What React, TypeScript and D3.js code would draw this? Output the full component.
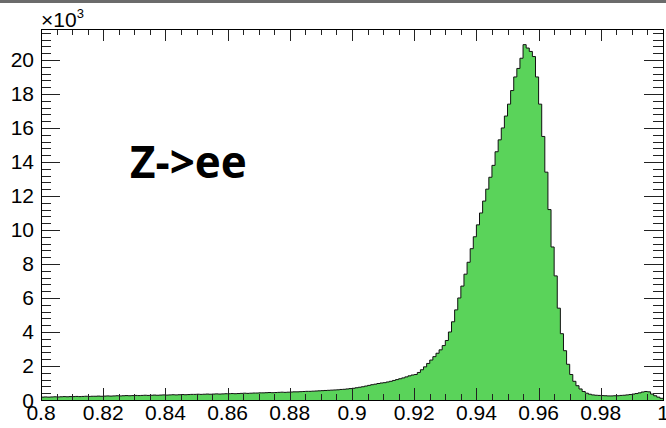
import React from "react";
import * as d3 from "d3";

// Histogram: 200 bins of width 0.001 from 0.8 to 1.0, counts in units of 10^3
const binStart = 0.8;
const binWidth = 0.001;
const counts: number[] = [
  // 0.800 - 0.899
  0.17, 0.18, 0.17, 0.18, 0.19, 0.18, 0.19, 0.20, 0.19, 0.20,
  0.20, 0.21, 0.20, 0.21, 0.22, 0.21, 0.22, 0.22, 0.23, 0.22,
  0.23, 0.24, 0.23, 0.24, 0.25, 0.24, 0.25, 0.26, 0.25, 0.26,
  0.27, 0.26, 0.27, 0.28, 0.27, 0.28, 0.29, 0.28, 0.29, 0.30,
  0.29, 0.30, 0.31, 0.30, 0.31, 0.32, 0.31, 0.32, 0.33, 0.33,
  0.34, 0.33, 0.34, 0.35, 0.34, 0.35, 0.36, 0.35, 0.36, 0.37,
  0.37, 0.38, 0.37, 0.38, 0.39, 0.40, 0.39, 0.40, 0.41, 0.41,
  0.42, 0.42, 0.43, 0.44, 0.43, 0.44, 0.45, 0.46, 0.45, 0.46,
  0.47, 0.48, 0.48, 0.49, 0.50, 0.51, 0.51, 0.52, 0.53, 0.54,
  0.55, 0.56, 0.57, 0.58, 0.59, 0.60, 0.62, 0.63, 0.65, 0.67,
  // 0.900 - 0.929
  0.69, 0.72, 0.75, 0.78, 0.82, 0.86, 0.90, 0.93, 0.97, 1.00,
  1.02, 1.06, 1.10, 1.15, 1.20, 1.25, 1.30, 1.36, 1.42, 1.47,
  1.50, 1.62, 1.78, 1.95, 2.15, 2.35, 2.55, 2.75, 2.95, 3.20,
  // 0.930 - 0.959
  3.50, 4.00, 4.60, 5.30, 6.00, 6.70, 7.40, 8.10, 8.90, 9.60,
  10.3, 11.0, 11.7, 12.4, 13.1, 13.8, 14.6, 15.3, 16.0, 16.7,
  17.4, 18.2, 19.0, 19.5, 20.1, 20.9, 20.7, 20.5, 20.2, 19.0,
  // 0.960 - 0.999
  17.4, 15.5, 13.4, 11.2, 9.00, 7.30, 5.40, 3.90, 2.90, 2.10,
  1.50, 1.10, 0.84, 0.65, 0.50, 0.40, 0.34, 0.30, 0.28, 0.27,
  0.26, 0.25, 0.24, 0.24, 0.25, 0.25, 0.27, 0.28, 0.30, 0.32,
  0.35, 0.38, 0.42, 0.47, 0.50, 0.48, 0.35, 0.25, 0.17, 0.10,
];

const xMajorTicks = [0.8, 0.82, 0.84, 0.86, 0.88, 0.9, 0.92, 0.94, 0.96, 0.98, 1.0];
const xTickLabels = ["0.8", "0.82", "0.84", "0.86", "0.88", "0.9", "0.92", "0.94", "0.96", "0.98", "1"];
const yMajorTicks = [0, 2, 4, 6, 8, 10, 12, 14, 16, 18, 20];
const yTickLabels = ["0", "2", "4", "6", "8", "10", "12", "14", "16", "18", "20"];
const xDomain = [0.8, 1.0];
const yDomain = [0, 21.82];
const annotation = "Z->ee";

const W = 666;
const H = 428;
const L = 41, R = 663, T = 29, B = 400;

export default function App() {
  const x = d3.scaleLinear().domain(xDomain).range([L, R]);
  const y = d3.scaleLinear().domain(yDomain).range([B, T]);

  const pts: [number, number][] = counts.map((c, i) => [binStart + i * binWidth, c]);
  pts.push([binStart + counts.length * binWidth, counts[counts.length - 1]]);

  const area = d3
    .area<[number, number]>()
    .x((d) => x(d[0]))
    .y0(y(0))
    .y1((d) => y(d[1]))
    .curve(d3.curveStepAfter);
  const line = d3
    .line<[number, number]>()
    .x((d) => x(d[0]))
    .y((d) => y(d[1]))
    .curve(d3.curveStepAfter);

  const xMinor: number[] = [];
  for (let i = 0; i <= 40; i++) xMinor.push(0.8 + i * 0.005);
  const yMinor: number[] = [];
  for (let v = 0; v <= yDomain[1] + 1e-9; v += 0.4) yMinor.push(+v.toFixed(2));

  const font = "'Liberation Sans', Arial, sans-serif";

  return (
    <svg width={W} height={H} style={{ position: "absolute", left: 0, top: 0, background: "#fff" }}>
      <rect x={0} y={0} width={W} height={H} fill="#fff" />
      <rect x={0} y={0} width={W} height={3} fill="#6b6b6b" />
      <path d={area(pts) || ""} fill="#5ad35a" stroke="none" />
      <path d={line(pts) || ""} fill="none" stroke="#111" strokeWidth={1} />
      {/* ticks */}
      <g stroke="#222" strokeWidth={1} shapeRendering="crispEdges">
        {xMinor.map((v, i) => {
          const major = i % 4 === 0;
          const len = major ? 12 : 6;
          const px = Math.round(x(v)) + 0.5;
          return (
            <g key={"xt" + i}>
              <line x1={px} x2={px} y1={B} y2={B - len} />
              <line x1={px} x2={px} y1={T} y2={T + len} />
            </g>
          );
        })}
        {yMinor.map((v, i) => {
          const major = Math.abs(v / 2 - Math.round(v / 2)) < 1e-6;
          const len = major ? 19 : 10;
          const py = Math.round(y(v)) + 0.5;
          return (
            <g key={"yt" + i}>
              <line x1={L} x2={L + len} y1={py} y2={py} />
              <line x1={R} x2={R - len} y1={py} y2={py} />
            </g>
          );
        })}
      </g>
      {/* frame */}
      <rect x={L + 0.5} y={T + 0.5} width={R - L} height={B - T} fill="none" stroke="#000" strokeWidth={1} shapeRendering="crispEdges" />
      {/* x labels */}
      <g fontFamily={font} fontSize={21} fill="#000" textAnchor="middle">
        {xMajorTicks.map((v, i) => (
          <text key={"xl" + i} x={x(v)} y={420}>
            {xTickLabels[i]}
          </text>
        ))}
      </g>
      {/* y labels */}
      <g fontFamily={font} fontSize={21} fill="#000" textAnchor="end">
        {yMajorTicks.map((v, i) => (
          <text key={"yl" + i} x={34} y={y(v) + 7.5}>
            {yTickLabels[i]}
          </text>
        ))}
      </g>
      <text x={41} y={27} fontFamily={font} fontSize={21} fill="#000">
        ×10
        <tspan fontSize={13} dy={-9}>3</tspan>
      </text>
      <text x={130} y={178} fontFamily="'Open Sans', sans-serif" fontWeight={700} fontSize={44} fill="#000">
        {annotation}
      </text>
    </svg>
  );
}
